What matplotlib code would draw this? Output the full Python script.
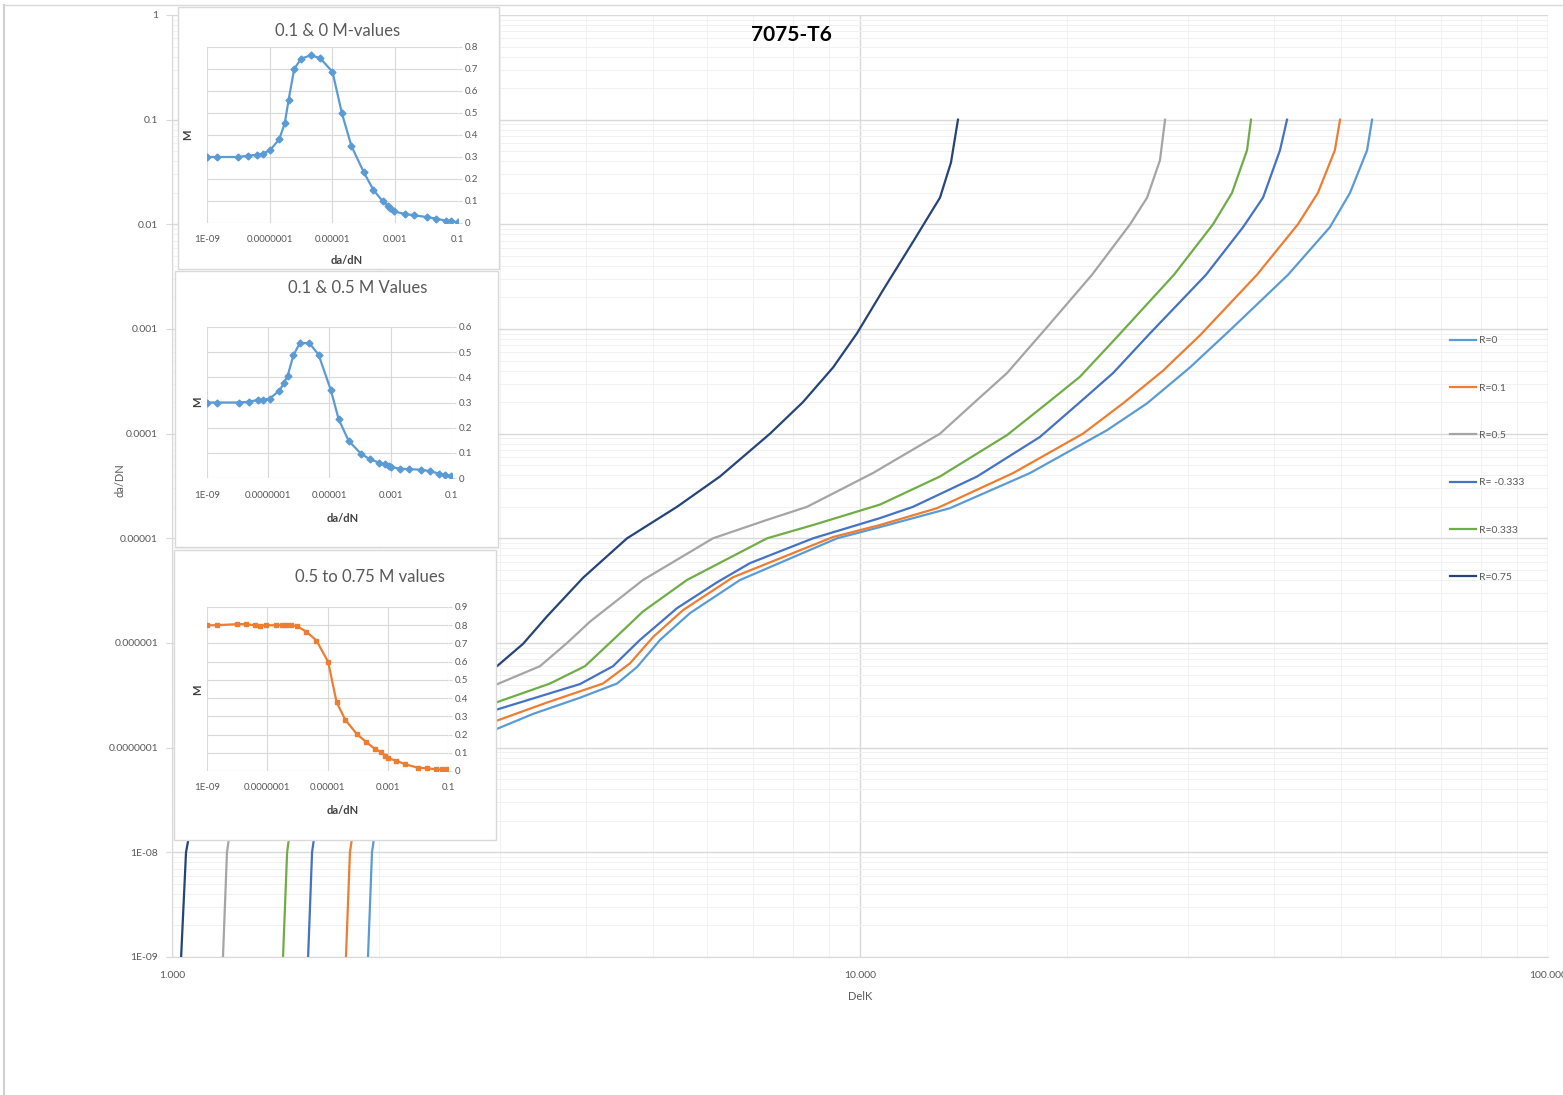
import numpy as np
import matplotlib
matplotlib.use("Agg")
import matplotlib.pyplot as plt
from matplotlib.lines import Line2D
from matplotlib.patches import Rectangle
from matplotlib.ticker import FixedLocator, NullFormatter, LogLocator

plt.rcParams['font.family'] = ['Lato', 'DejaVu Sans']

# ---------------- main chart data: DelK vs da/dN for each stress ratio ----------------
series_labels = ["R=0", "R=0.1", "R=0.5", "R= -0.333", "R=0.333", "R=0.75"]
series_colors = ["#5B9BD5", "#ED7D31", "#A5A5A5", "#4472C4", "#70AD47", "#264478"]

delk_r0 = [1.927, 1.953, 1.973, 2.958, 3.347, 3.917, 4.435, 4.742, 5.122, 5.661, 6.693, 9.26,
           10.69, 13.51, 17.66, 22.86, 26.14, 30.18, 34.5, 41.9, 48.2, 51.55, 54.58, 55.5]
dadn_r0 = [1e-9, 1e-8, 1.6e-8, 1.5e-7, 2.1e-7, 3.0e-7, 4.1e-7, 5.9e-7, 1.07e-6, 1.93e-6, 4.0e-6, 1.0e-5,
           1.28e-5, 1.94e-5, 4.2e-5, 1.08e-4, 1.95e-4, 4.3e-4, 9.75e-4, 3.3e-3, 9.4e-3, 2.0e-2, 5.1e-2, 0.1]

delk_r01 = [1.790, 1.814, 1.833, 2.958, 3.509, 4.231, 4.632, 5.003, 5.530, 6.538, 9.14, 10.69,
            12.94, 16.69, 21.09, 24.12, 27.57, 31.2, 37.76, 43.3, 46.3, 49.0, 49.86]
dadn_r01 = [1e-9, 1e-8, 1.6e-8, 1.8e-7, 2.7e-7, 4.1e-7, 6.4e-7, 1.14e-6, 2.06e-6, 4.25e-6, 1.03e-5, 1.34e-5,
            1.94e-5, 4.2e-5, 1.0e-4, 1.95e-4, 4.0e-4, 8.7e-4, 3.3e-3, 1.0e-2, 2.0e-2, 5.1e-2, 0.1]

delk_r05 = [1.186, 1.202, 1.214, 2.958, 3.426, 3.751, 4.051, 4.837, 6.113, 7.325, 8.375, 10.44,
            13.07, 14.80, 16.36, 18.6, 21.74, 24.69, 26.14, 27.29, 27.76]
dadn_r05 = [1e-9, 1e-8, 1.6e-8, 4.0e-7, 6.0e-7, 1.0e-6, 1.6e-6, 4.0e-6, 1.0e-5, 1.5e-5, 2.0e-5, 4.2e-5,
            1.0e-4, 2.1e-4, 3.8e-4, 1.0e-3, 3.3e-3, 1.0e-2, 1.8e-2, 4.1e-2, 0.1]

delk_rm0333 = [1.577, 1.598, 1.614, 2.958, 3.917, 4.375, 4.788, 5.420, 6.197, 6.921, 8.545, 10.69,
               11.94, 14.80, 18.26, 20.88, 23.33, 26.40, 31.84, 36.04, 38.53, 40.78, 41.75]
dadn_rm0333 = [1e-9, 1e-8, 1.6e-8, 2.3e-7, 4.05e-7, 6.0e-7, 1.07e-6, 2.15e-6, 3.8e-6, 5.8e-6, 1.0e-5, 1.56e-5,
               2.0e-5, 3.9e-5, 9.3e-5, 2.0e-4, 3.8e-4, 9.1e-4, 3.3e-3, 9.4e-3, 1.8e-2, 5.1e-2, 0.1]

delk_r0333 = [1.450, 1.470, 1.484, 2.958, 3.543, 3.983, 4.375, 4.837, 5.604, 7.325, 8.545, 10.69,
              13.07, 16.36, 18.70, 20.88, 23.64, 28.60, 32.59, 34.73, 36.52, 37.01]
dadn_r0333 = [1e-9, 1e-8, 1.6e-8, 2.7e-7, 4.1e-7, 6.0e-7, 1.07e-6, 2.0e-6, 4.0e-6, 1.0e-5, 1.34e-5, 2.1e-5,
              3.9e-5, 9.7e-5, 1.95e-4, 3.5e-4, 8.4e-4, 3.3e-3, 1.0e-2, 2.0e-2, 5.1e-2, 0.1]

delk_r075 = [1.031, 1.048, 1.062, 2.958, 3.237, 3.509, 3.958, 4.585, 5.420, 6.259, 7.40, 8.26,
             9.14, 9.90, 10.80, 11.94, 13.07, 13.56, 13.88]
dadn_r075 = [1e-9, 1e-8, 1.6e-8, 5.9e-7, 9.8e-7, 1.8e-6, 4.2e-6, 1.0e-5, 2.0e-5, 3.9e-5, 1.0e-4, 2.0e-4,
             4.3e-4, 9.1e-4, 2.35e-3, 6.8e-3, 1.8e-2, 3.9e-2, 0.1]

series_delk = [delk_r0, delk_r01, delk_r05, delk_rm0333, delk_r0333, delk_r075]
series_dadn = [dadn_r0, dadn_r01, dadn_r05, dadn_rm0333, dadn_r0333, dadn_r075]

main_yticks = [1e-9, 1e-8, 1e-7, 1e-6, 1e-5, 1e-4, 1e-3, 1e-2, 1e-1, 1]
main_ytick_labels = ["1E-09", "1E-08", "0.0000001", "0.000001", "0.00001", "0.0001",
                     "0.001", "0.01", "0.1", "1"]
main_xticks = [1, 10, 100]
main_xtick_labels = ["1.000", "10.000", "100.000"]

# ---------------- inset data: M against da/dN ----------------
m1_dadn = [1e-9, 2.1e-9, 1e-8, 2e-8, 4e-8, 6e-8, 1e-7, 2e-7, 3e-7, 4e-7, 6e-7, 1e-6, 2e-6, 4e-6,
           1e-5, 2e-5, 4e-5, 1e-4, 2e-4, 4e-4, 6e-4, 7e-4, 9e-4, 2e-3, 4e-3, 1e-2, 2e-2, 4e-2, 6e-2, 0.1]
m1_vals = [0.30, 0.30, 0.30, 0.306, 0.31, 0.315, 0.33, 0.38, 0.453, 0.56, 0.70, 0.747, 0.762, 0.75,
           0.687, 0.498, 0.35, 0.23, 0.151, 0.098, 0.078, 0.068, 0.053, 0.041, 0.035, 0.027, 0.02,
           0.011, 0.008, 0.003]

m2_dadn = [1e-9, 2.1e-9, 1.1e-8, 2.3e-8, 4.5e-8, 6.5e-8, 1.1e-7, 2.3e-7, 3.2e-7, 4.3e-7, 6.6e-7, 1.07e-6,
           2.2e-6, 4.4e-6, 1.1e-5, 2.0e-5, 4.2e-5, 1.05e-4, 2.1e-4, 4.2e-4, 6.3e-4, 8.5e-4, 1.0e-3,
           2.0e-3, 4.0e-3, 1.0e-2, 1.95e-2, 3.9e-2, 5.8e-2, 9.5e-2]
m2_vals = [0.30, 0.30, 0.30, 0.303, 0.31, 0.31, 0.315, 0.347, 0.376, 0.406, 0.487, 0.536,
           0.536, 0.49, 0.35, 0.233, 0.148, 0.097, 0.074, 0.061, 0.055, 0.047, 0.044,
           0.037, 0.035, 0.033, 0.027, 0.017, 0.013, 0.007]

m3_dadn = [1e-9, 2.1e-9, 1e-8, 2e-8, 3.8e-8, 5.6e-8, 9.3e-8, 1.9e-7, 3e-7, 4.1e-7, 6e-7, 1e-6,
           2e-6, 4.3e-6, 1.05e-5, 2.0e-5, 3.9e-5, 9.5e-5, 1.95e-4, 3.9e-4, 6.2e-4, 8.3e-4, 1.0e-3,
           1.9e-3, 3.8e-3, 1.0e-2, 2.0e-2, 4.1e-2, 6.3e-2, 9.5e-2]
m3_vals = [0.80, 0.80, 0.806, 0.806, 0.80, 0.797, 0.80, 0.80, 0.80, 0.803, 0.80, 0.794,
           0.764, 0.716, 0.599, 0.378, 0.281, 0.202, 0.158, 0.119, 0.103, 0.084, 0.070,
           0.057, 0.037, 0.018, 0.015, 0.009, 0.009, 0.009]

inset_xticks = [1e-9, 1e-7, 1e-5, 1e-3, 1e-1]
inset_xtick_labels = ["1E-09", "0.0000001", "0.00001", "0.001", "0.1"]

# ---------------- figure layout (pixel based) ----------------
W, H = 1563, 1095
fig = plt.figure(figsize=(W / 100, H / 100), dpi=100)


def fx(px):
    return px / W


def fy(py):
    return 1 - py / H


def rect(x0, y0, x1, y1):
    return [fx(x0), fy(y1), fx(x1) - fx(x0), fy(y0) - fy(y1)]


TXT = "#595959"
GRID = "#D9D9D9"

ax = fig.add_axes(rect(172, 15, 1548, 957))
ax.set_zorder(0)
for dk, dn, lab, col in zip(series_delk, series_dadn, series_labels, series_colors):
    ax.plot(dk, dn, color=col, lw=1.6, label=lab, solid_joinstyle="round")

ax.set_xscale("log")
ax.set_yscale("log")
ax.set_xlim(1, 100)
ax.set_ylim(1e-9, 1)
ax.yaxis.set_major_locator(FixedLocator(main_yticks))
ax.set_yticklabels(main_ytick_labels)
ax.yaxis.set_minor_locator(LogLocator(base=10, subs=np.arange(2, 10)))
ax.yaxis.set_minor_formatter(NullFormatter())
ax.xaxis.set_major_locator(FixedLocator(main_xticks))
ax.set_xticklabels(main_xtick_labels)
ax.xaxis.set_minor_locator(LogLocator(base=10, subs=np.arange(2, 10)))
ax.xaxis.set_minor_formatter(NullFormatter())
ax.grid(which="major", color=GRID, lw=1.0)
ax.grid(which="minor", color="#F1F1F1", lw=0.7)
ax.set_axisbelow(True)
ax.tick_params(axis="y", which="major", length=4, color=GRID, labelsize=7.5,
               labelcolor=TXT, pad=6)
ax.tick_params(axis="x", which="major", length=0, labelsize=7.5, labelcolor=TXT, pad=10)
ax.tick_params(which="minor", length=0)
for s in ("top", "right"):
    ax.spines[s].set_visible(False)
for s in ("left", "bottom"):
    ax.spines[s].set_color(GRID)

fig.text(fx(120), fy(480), "da/DN", rotation=90, ha="center", va="center",
         fontsize=8, color=TXT)
fig.text(fx(860), fy(997), "DelK", ha="center", va="center", fontsize=8, color=TXT)
fig.text(fx(791), fy(35), "7075-T6", ha="center", va="center", fontsize=15,
         fontweight="bold", color="#000000")

ax.legend(loc="upper left", bbox_to_anchor=(fx(1450), fy(336)), bbox_transform=fig.transFigure,
          frameon=False, fontsize=7.5, labelcolor=TXT, handlelength=2.5, handletextpad=0.3,
          labelspacing=3.65, borderpad=0, borderaxespad=0)

# outer frame of the sheet
fig.add_artist(Line2D([fx(4), fx(4)], [0, fy(5)], color="#D0D0D0", lw=1.5))
fig.add_artist(Line2D([fx(4), 1], [fy(5), fy(5)], color="#D9D9D9", lw=1.0))


# ---------------- insets ----------------
def add_inset(box, plot, title, title_xy, m_xy, dn_xy, xs, ys, color, marker, msize, ymax):
    fig.add_artist(Rectangle((fx(box[0]), fy(box[3])), fx(box[2]) - fx(box[0]),
                             fy(box[1]) - fy(box[3]), transform=fig.transFigure,
                             facecolor="white", edgecolor=GRID, lw=1.0, zorder=1))
    iax = fig.add_axes(rect(*plot))
    iax.set_zorder(2)
    iax.patch.set_alpha(0)
    iax.plot(xs, ys, color=color, lw=1.6, marker=marker, markersize=msize,
             markerfacecolor=color, markeredgecolor=color)
    iax.set_xscale("log")
    iax.set_xlim(1e-9, 0.1)
    iax.set_ylim(0, ymax)
    iax.xaxis.set_major_locator(FixedLocator(inset_xticks))
    iax.set_xticklabels(inset_xtick_labels)
    iax.xaxis.set_minor_locator(FixedLocator([]))
    yt = np.round(np.arange(0, ymax + 1e-9, 0.1), 1)
    iax.set_yticks(yt)
    iax.set_yticklabels(["0" if v == 0 else f"{v:g}" for v in yt])
    iax.yaxis.tick_right()
    iax.grid(which="major", color=GRID, lw=0.8)
    iax.set_axisbelow(True)
    iax.tick_params(axis="y", length=3, color=GRID, labelsize=7, labelcolor=TXT, pad=2)
    iax.tick_params(axis="x", length=0, labelsize=7, labelcolor=TXT, pad=9)
    for s in iax.spines.values():
        s.set_visible(False)
    fig.text(fx(title_xy[0]), fy(title_xy[1]), title, ha="center", va="center",
             fontsize=12, color=TXT, zorder=3)
    fig.text(fx(m_xy[0]), fy(m_xy[1]), "M", rotation=90, ha="center", va="center",
             fontsize=8, fontweight="bold", color="#404040", zorder=3)
    fig.text(fx(dn_xy[0]), fy(dn_xy[1]), "da/dN", ha="center", va="center",
             fontsize=8, fontweight="bold", color="#404040", zorder=3)


add_inset((178, 7, 499, 269), (207, 47, 458, 223), "0.1 & 0 M-values", (338, 31),
          (188, 135), (347, 260), m1_dadn, m1_vals, "#5B9BD5", "D", 3.5, 0.8)
add_inset((175, 271, 498, 547), (207, 327, 452, 478), "0.1 & 0.5 M Values", (358, 288),
          (198, 402), (343, 519), m2_dadn, m2_vals, "#5B9BD5", "D", 3.5, 0.6)
add_inset((174, 550, 496, 840), (207, 607, 448, 771), "0.5 to 0.75 M values", (370, 577),
          (198, 690), (343, 810), m3_dadn, m3_vals, "#ED7D31", "s", 3.5, 0.9)

fig.savefig("out.png", dpi=100, facecolor="white")
